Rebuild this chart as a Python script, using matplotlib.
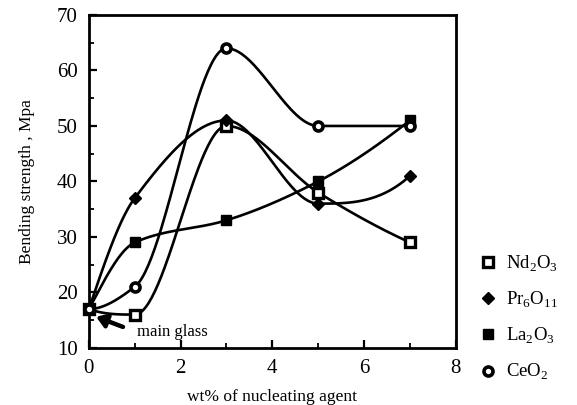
import matplotlib
matplotlib.use("Agg")
import matplotlib.pyplot as plt
import numpy as np
from matplotlib.lines import Line2D

plt.rcParams["font.family"] = ["Liberation Serif", "DejaVu Serif"]
plt.rcParams["mathtext.fontset"] = "custom"
plt.rcParams["mathtext.rm"] = "Liberation Serif"

# wt% of nucleating agent
wt = [0, 1, 3, 5, 7]
nd2o3 = [17, 16, 50, 38, 29]
pr6o11 = [17, 37, 51, 36, 41]
la2o3 = [17, 29, 33, 40, 51]
ceo2 = [17, 21, 64, 50, 50]


def smooth(x, y, n=60):
    """Monotone cubic (Fritsch-Carlson) through the points."""
    x = np.asarray(x, float)
    y = np.asarray(y, float)
    h = np.diff(x)
    d = np.diff(y) / h
    m = np.zeros_like(y)
    for k in range(1, len(x) - 1):
        if d[k - 1] * d[k] > 0:
            w1 = 2 * h[k] + h[k - 1]
            w2 = h[k] + 2 * h[k - 1]
            m[k] = (w1 + w2) / (w1 / d[k - 1] + w2 / d[k])
    # end slopes: three-point estimate, kept in sign with the first secant
    for e, (a, b, ha, hb) in ((0, (d[0], d[1], h[0], h[1])),
                              (-1, (d[-1], d[-2], h[-1], h[-2]))):
        s = ((2 * ha + hb) * a - ha * b) / (ha + hb)
        if np.sign(s) != np.sign(a):
            s = 0.0
        elif np.sign(a) != np.sign(b) and abs(s) > abs(3 * a):
            s = 3 * a
        m[e] = s
    xs, ys = [], []
    for k in range(len(x) - 1):
        t = np.linspace(0, 1, n)
        h00 = 2 * t**3 - 3 * t**2 + 1
        h10 = t**3 - 2 * t**2 + t
        h01 = -2 * t**3 + 3 * t**2
        h11 = t**3 - t**2
        xs.append(x[k] + t * h[k])
        ys.append(h00 * y[k] + h10 * h[k] * m[k] + h01 * y[k + 1] + h11 * h[k] * m[k + 1])
    return np.concatenate(xs), np.concatenate(ys)


fig = plt.figure(figsize=(5.77, 4.05), dpi=100)
ax = fig.add_axes([0.154, 0.141, 0.636, 0.822])

series = [
    ("Nd$_2$O$_3$", nd2o3, dict(marker="s", ms=6.5, mfc="white", mec="black", mew=2.4)),
    ("Pr$_6$O$_{11}$", pr6o11, dict(marker="D", ms=6.5, mfc="black", mec="black")),
    ("La$_2$O$_3$", la2o3, dict(marker="s", ms=7.5, mfc="black", mec="black")),
    ("CeO$_2$", ceo2, dict(marker="o", ms=6.5, mfc="white", mec="black", mew=2.6)),
]

handles = []
for lab, ys, mk in series:
    sx, sy = smooth(wt, ys)
    ax.plot(sx, sy, color="black", lw=1.9, zorder=2)
    ax.plot(wt, ys, ls="none", zorder=3, clip_on=False, **mk)
    handles.append(Line2D([], [], ls="none", **mk))

ax.set_xlim(0, 8)
ax.set_ylim(10, 70)
ax.set_xticks([0, 2, 4, 6, 8])
ax.set_xticks([1, 3, 5, 7], minor=True)
ax.set_yticks(range(10, 71, 10))
ax.set_yticks(range(15, 70, 10), minor=True)
ax.tick_params(direction="in", length=6, width=1.6, labelsize=15, pad=8)
ax.tick_params(which="minor", direction="in", length=3.5, width=1.3)
for s in ax.spines.values():
    s.set_linewidth(2)

ax.set_xlabel("wt% of nucleating agent", fontsize=12.5, labelpad=8)
ax.set_ylabel("Bending strength , Mpa", fontsize=12.5, labelpad=16)

ax.annotate("", xy=(0.1, 15.8), xytext=(0.8, 13.6),
            arrowprops=dict(arrowstyle="-|>,head_length=0.6,head_width=0.4",
                            color="black", lw=3.2))
ax.text(1.05, 12.9, "main glass", fontsize=12, va="center", ha="left")

fig.legend(handles, [s[0] for s in series], loc="center left",
           bbox_to_anchor=(0.803, 0.215), frameon=False, fontsize=13.5,
           handlelength=0.8, handletextpad=0.6, labelspacing=0.85)

fig.savefig("out.png", dpi=100, facecolor="white")
